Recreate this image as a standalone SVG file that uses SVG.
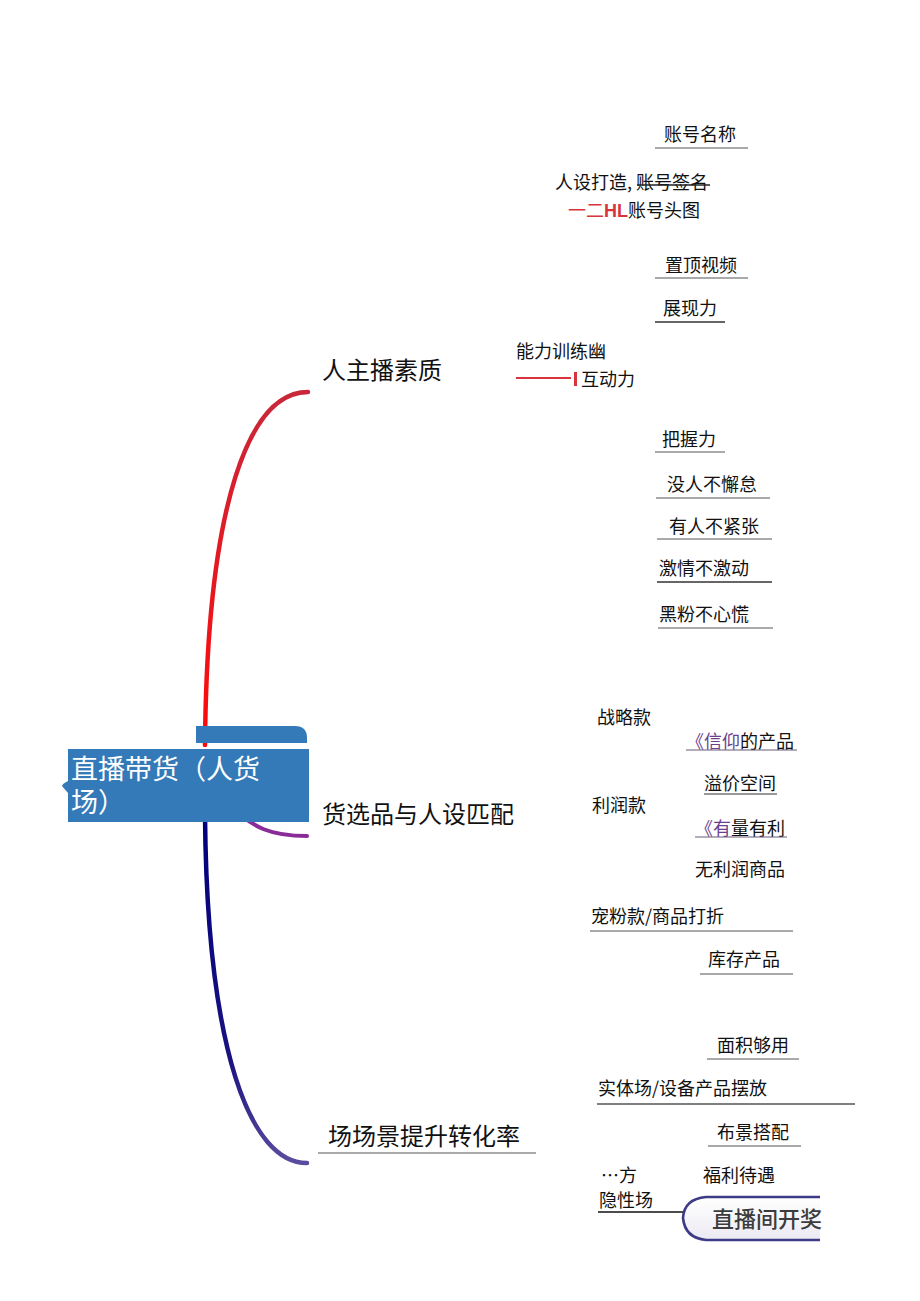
<svg xmlns="http://www.w3.org/2000/svg" width="920" height="1301" viewBox="0 0 920 1301">
<style>
text{font-family:"Noto Sans CJK SC","Noto Sans",sans-serif;fill:#111;}
.s{font-size:18px;}
.m{font-size:24px;}
.ul{stroke:#8c8c8c;stroke-width:1.6;fill:none;}
.uld{stroke:#333;stroke-width:1.4;fill:none;}
.pu{fill:#6b3f8c;}
.rd{fill:#d8343c;}
</style>
<defs>
<linearGradient id="gRed" x1="0" y1="392" x2="0" y2="740" gradientUnits="userSpaceOnUse">
<stop offset="0" stop-color="#c8283a"/>
<stop offset="1" stop-color="#ff0a0a"/>
</linearGradient>
<linearGradient id="gNavy" x1="0" y1="815" x2="0" y2="1163" gradientUnits="userSpaceOnUse">
<stop offset="0" stop-color="#00007c"/>
<stop offset="0.7" stop-color="#1a1280"/>
<stop offset="1" stop-color="#5a4c9e"/>
</linearGradient>
<linearGradient id="gBtn" x1="0" y1="1197" x2="0" y2="1240" gradientUnits="userSpaceOnUse">
<stop offset="0" stop-color="#ffffff"/>
<stop offset="1" stop-color="#eceaf2"/>
</linearGradient>
</defs>
<rect width="920" height="1301" fill="#fff"/>

<g id="connectors">
<path d="M308 392 C250 392 207 500 205 745" fill="none" stroke="url(#gRed)" stroke-width="4.5" stroke-linecap="round"/>
<path d="M228 800 C250 830 275 836 307 836" fill="none" stroke="#8a2c98" stroke-width="4" stroke-linecap="round"/>
<path d="M205 815 C207 1050 250 1163 307 1163" fill="none" stroke="url(#gNavy)" stroke-width="4.5" stroke-linecap="round"/>
<path d="M516 378 L571 378" stroke="#d8343c" stroke-width="1.8"/>
<path d="M575.5 372 L575.5 386" stroke="#d8343c" stroke-width="3"/>
</g>

<g id="root">
<path d="M196 726 L295 726 Q307 726 307 738 L307 743 L196 743 Z" fill="#3479b8"/>
<rect x="68" y="749" width="241" height="73" fill="#3479b8"/>
<path d="M68 781 Q62 784 62 786 L68 793 Z" fill="#3479b8"/>
<text x="71" y="779" style="font-size:27px;fill:#fff">直播带货（人货</text>
<text x="71" y="812" style="font-size:27px;fill:#fff">场）</text>
</g>

<g id="branch-ren">
<text class="m" x="322" y="379">人主播素质</text>
</g>
<g id="branch-huo">
<text class="m" x="322" y="823">货选品与人设匹配</text>
</g>
<g id="branch-chang">
<text class="m" x="328" y="1145">场场景提升转化率</text>
<line class="ul" x1="318" y1="1153" x2="536" y2="1153"/>
</g>

<g id="n-zhmc"><text class="s" x="664" y="141">账号名称</text><line class="ul" x1="655" y1="148" x2="748" y2="148"/></g>
<g id="n-rsdz"><text class="s" x="555" y="189">人设打造, 账号签名</text><line x1="637" y1="185" x2="710" y2="185" stroke="#222" stroke-width="1.3"/></g>
<g id="n-zhtt"><text class="s" x="568" y="217"><tspan class="rd">一二</tspan><tspan class="rd" style="font-weight:bold;font-family:'Liberation Sans Narrow','Liberation Sans',sans-serif">HL</tspan>账号头图</text></g>
<g id="n-zdsp"><text class="s" x="665" y="272">置顶视频</text><line class="ul" x1="655" y1="278" x2="748" y2="278"/></g>
<g id="n-zxl"><text class="s" x="663" y="315">展现力</text><line class="uld" x1="655" y1="322" x2="725" y2="322"/></g>
<g id="n-nlxl"><text class="s" x="516" y="358">能力训练幽</text></g>
<g id="n-hdl"><text class="s" x="581" y="386">互动力</text></g>
<g id="n-bwl"><text class="s" x="662" y="446">把握力</text><line class="ul" x1="655" y1="452" x2="725" y2="452"/></g>
<g id="n-mrbxd"><text class="s" x="667" y="491">没人不懈怠</text><line class="ul" x1="656" y1="498" x2="770" y2="498"/></g>
<g id="n-yrbjz"><text class="s" x="669" y="533">有人不紧张</text><line class="ul" x1="657" y1="539" x2="772" y2="539"/></g>
<g id="n-jqbjd"><text class="s" x="659" y="575">激情不激动</text><line class="uld" x1="657" y1="582" x2="772" y2="582"/></g>
<g id="n-hfbxh"><text class="s" x="659" y="621">黑粉不心慌</text><line class="ul" x1="658" y1="628" x2="773" y2="628"/></g>

<g id="n-zlk"><text class="s" x="597" y="724">战略款</text></g>
<g id="n-xydcp"><text class="s" x="686" y="748"><tspan class="pu">《信仰</tspan>的产品</text><line x1="686" y1="750" x2="797" y2="750" stroke="#6a5a7a" stroke-width="1.2"/></g>
<g id="n-yjkj"><text class="s" x="704" y="790">溢价空间</text><line x1="704" y1="794" x2="777" y2="794" stroke="#333" stroke-width="1.2"/></g>
<g id="n-lrk"><text class="s" x="592" y="812">利润款</text></g>
<g id="n-ylyl"><text class="s" x="695" y="835"><tspan class="pu">《有</tspan>量有利</text><line x1="695" y1="837" x2="787" y2="837" stroke="#6a5a7a" stroke-width="1.2"/></g>
<g id="n-wlrsp"><text class="s" x="695" y="876">无利润商品</text></g>
<g id="n-cfk"><text class="s" x="591" y="923">宠粉款/商品打折</text><line class="ul" x1="590" y1="931" x2="793" y2="931"/></g>
<g id="n-kccp"><text class="s" x="708" y="966">库存产品</text><line class="ul" x1="700" y1="974" x2="793" y2="974"/></g>

<g id="n-mjgy"><text class="s" x="717" y="1052">面积够用</text><line class="ul" x1="707" y1="1059" x2="799" y2="1059"/></g>
<g id="n-stc"><text class="s" x="598" y="1095">实体场/设备产品摆放</text><line x1="597" y1="1104" x2="855" y2="1104" stroke="#555" stroke-width="1.4"/></g>
<g id="n-bjdp"><text class="s" x="717" y="1139">布景搭配</text><line class="ul" x1="708" y1="1146" x2="801" y2="1146"/></g>
<g id="n-fang"><text class="s" x="601" y="1182">…方</text></g>
<g id="n-flyd"><text class="s" x="703" y="1182">福利待遇</text></g>
<g id="n-yxc"><text class="s" x="599" y="1207">隐性场</text><line x1="598" y1="1212" x2="700" y2="1212" stroke="#111" stroke-width="1.3"/></g>
<g id="n-zbjkj">
<path d="M820 1197 L706 1197 Q684 1199 683 1218 Q685 1238 706 1240 L820 1240" fill="url(#gBtn)" stroke="#3d3a86" stroke-width="2.6"/>
<text x="712" y="1227" style="font-size:22px;fill:#3c3c3c;font-weight:500">直播间开奖</text>
</g>
</svg>
